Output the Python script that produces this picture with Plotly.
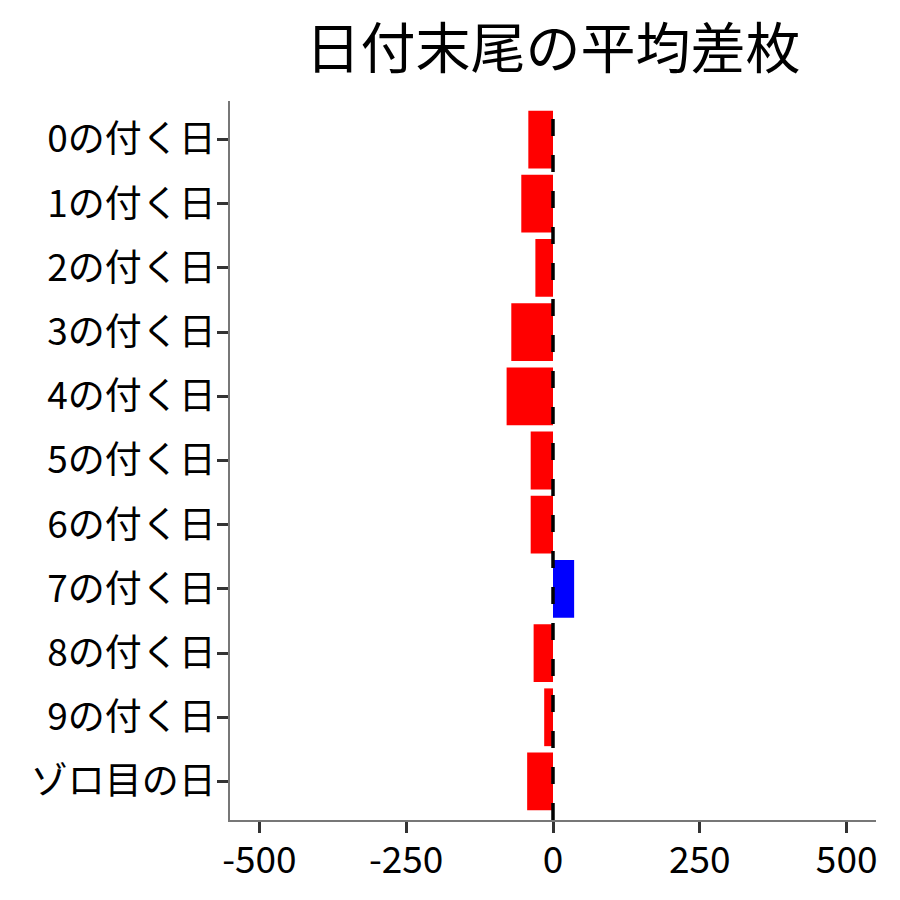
import plotly.graph_objects as go

# データ
categories = ["0の付く日", "1の付く日", "2の付く日", "3の付く日", "4の付く日", "5の付く日",
              "6の付く日", "7の付く日", "8の付く日", "9の付く日", "ゾロ目の日"]
values = [-42, -54, -30, -71, -79, -38, -38, 36, -33, -15, -44]
x_ticks = [-500, -250, 0, 250, 500]

colors = ["blue" if v > 0 else "red" for v in values]
font = "Noto Sans CJK JP"

fig = go.Figure()
fig.add_trace(go.Bar(x=values, y=categories, orientation="h", marker=dict(color=colors, line=dict(width=0)),
                     width=0.9, showlegend=False))

# 0の位置に破線
fig.add_vline(x=0, line=dict(color="black", width=3.5, dash="17px,19px"))

fig.update_layout(
    width=900, height=900,
    plot_bgcolor="white", paper_bgcolor="white",
    margin=dict(l=222, r=32, t=93, b=88),
    title=dict(text="日付末尾の平均差枚", x=0.6056, xanchor="center", y=0.955, yanchor="middle",
               font=dict(family=font, size=55, color="black")),
    xaxis=dict(range=[-550, 550], tickvals=x_ticks, ticktext=[str(t) for t in x_ticks],
               showgrid=False, zeroline=False, showline=True, linecolor="#777", linewidth=1.5,
               ticks="outside", ticklen=11, tickwidth=3, tickcolor="#333", ticklabelstandoff=-4,
               tickfont=dict(family=font, size=37, color="black")),
    yaxis=dict(range=[10.6, -0.6], showgrid=False, zeroline=False, showline=True, linecolor="#777",
               linewidth=1.5, ticks="outside", ticklen=11, tickwidth=3, tickcolor="#333",
               ticklabelstandoff=-6, tickfont=dict(family=font, size=37, color="black")),
)

fig.write_html("out.html")
